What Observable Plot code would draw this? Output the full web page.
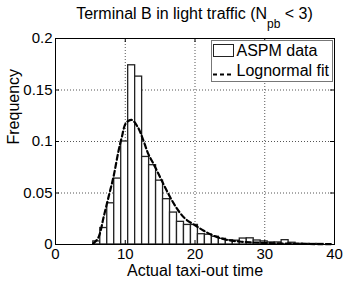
<!DOCTYPE html>
<html><head><meta charset="utf-8">
<script src="https://cdn.jsdelivr.net/npm/d3@7"></script>
<script src="https://cdn.jsdelivr.net/npm/@observablehq/plot@0.6"></script>
<style>
body{margin:0;background:#fff;font-family:"Liberation Sans",Arial,Helvetica,sans-serif;}
#wrap{position:relative;width:346px;height:281px;overflow:hidden;background:#fff;}
#title{position:absolute;left:55px;width:279px;top:6px;text-align:center;font-size:16px;line-height:16px;z-index:2;color:#000;white-space:nowrap;}
#title sub{font-size:12px;vertical-align:-9px;line-height:0;}
#chart{position:absolute;left:0;top:30px;}
#legend{position:absolute;left:211px;top:40px;width:120px;height:40px;border:1px solid #777;background:#fff;z-index:3;font-size:16px;line-height:16px;color:#000;}
#legend .sw{position:absolute;left:1px;top:3px;width:19px;height:11px;border:1.3px solid #222;background:#fff;}
#legend .ln{position:absolute;left:1px;top:31px;}
#legend .t{position:absolute;left:24.5px;white-space:nowrap;}
</style></head><body>
<div id="wrap">
  <div id="title">Terminal B in light traffic (N<sub>pb</sub> &lt; 3)</div>
  <div id="chart"></div>
  <div id="legend">
    <div class="sw"></div><span class="t" style="top:1.5px">ASPM data</span>
    <svg class="ln" width="22" height="5"><line x1="0" x2="21" y1="2.5" y2="2.5" stroke="#000" stroke-width="2" stroke-dasharray="4,3"/></svg>
    <span class="t" style="top:21.5px">Lognormal fit</span>
  </div>
</div>
<script>
// ---- data ----
const xTickValues = [0, 10, 20, 30, 40];
const yTickValues = [0, 0.05, 0.1, 0.15, 0.2];
const xGridValues = [10, 20, 30];
const yGridValues = [0.05, 0.1, 0.15];

// histogram bin edges (minutes) and frequencies
const binEdges = [5.42, 6.42, 7.42, 8.42, 9.42, 10.42, 11.42, 12.42, 13.42, 14.42, 15.42,
  16.42, 17.42, 18.42, 19.42, 20.42, 21.42, 22.42, 23.42, 24.42, 25.42, 26.42, 27.42,
  28.42, 29.42, 30.42, 31.42, 32.42, 33.42, 34.42, 35.42, 36.42, 37.42, 38.42];
const binFreq = [0.003, 0.016, 0.040, 0.064, 0.100, 0.174, 0.163, 0.085, 0.077, 0.062, 0.044,
  0.031, 0.022, 0.019, 0.019, 0.010, 0.0095, 0.0075, 0.0055, 0.004, 0.0037, 0.0058, 0.006,
  0.0039, 0.003, 0.002, 0.002, 0.0042, 0.0017, 0.0007, 0.0006, 0.0005, 0.0005];

// lognormal fit curve
const fitX = [5.4, 6.0, 6.35, 6.9, 7.6, 8.3, 9.05, 9.5, 10.1, 10.9, 11.8, 12.6, 13.3, 14.05,
  15.0, 15.7, 16.7, 17.6, 18.6, 19.8, 21.2, 22.6, 24.5, 26.4, 28.0, 30.0, 33.0, 36.0, 39.5];
const fitY = [0.0008, 0.005, 0.0104, 0.0265, 0.046, 0.0653, 0.0913, 0.104, 0.1178, 0.121,
  0.1139, 0.101, 0.088, 0.0783, 0.0653, 0.0556, 0.0427, 0.033, 0.025, 0.0195, 0.0136, 0.0087,
  0.0046, 0.0029, 0.0021, 0.0015, 0.0009, 0.0005, 0.0003];

const bins = binFreq.map((f, i) => ({x1: binEdges[i], x2: binEdges[i + 1], y: f}));
const fit = fitX.map((x, i) => ({x, y: fitY[i]}));

const W = 346, H = 251, mt = 8, mr = 12, mb = 37, ml = 55;
const frameW = W - ml - mr, frameH = H - mt - mb, tickLen = 4;
const font = '"Liberation Sans", Arial, Helvetica, sans-serif';

const chart = Plot.plot({
  width: W, height: H, marginTop: mt, marginRight: mr, marginBottom: mb, marginLeft: ml,
  style: {fontFamily: font, fontSize: "15px", color: "#000", background: "transparent", overflow: "visible"},
  x: {domain: [0, 40]},
  y: {domain: [0, 0.2]},
  marks: [
    Plot.ruleX(xGridValues, {x: d => d, stroke: "#555", strokeWidth: 1, strokeDasharray: "1,2"}),
    Plot.ruleY(yGridValues, {y: d => d, stroke: "#555", strokeWidth: 1, strokeDasharray: "1,2"}),
    Plot.rectY(bins, {x1: "x1", x2: "x2", y: "y", fill: "#fff", stroke: "#222", strokeWidth: 1.3}),
    Plot.line(fit, {x: "x", y: "y", stroke: "#000", strokeWidth: 2.2, strokeDasharray: "5,3", curve: "catmull-rom"}),
    Plot.tickX(xTickValues, {x: d => d, insetTop: frameH - tickLen, stroke: "#000"}),
    Plot.tickX(xTickValues, {x: d => d, insetBottom: frameH - tickLen, stroke: "#000"}),
    Plot.tickY(yTickValues, {y: d => d, insetRight: frameW - tickLen, stroke: "#000"}),
    Plot.tickY(yTickValues, {y: d => d, insetLeft: frameW - tickLen, stroke: "#000"}),
    Plot.frame({stroke: "#000", strokeWidth: 1}),
    Plot.axisX({ticks: xTickValues, tickSize: 0, tickPadding: 4, tickFormat: d => String(d), label: null}),
    Plot.axisY({ticks: yTickValues, tickSize: 0, tickPadding: 3, tickFormat: d => d === 0 ? "0" : String(d), label: null}),
    Plot.text(["Actual taxi-out time"], {text: d => d, frameAnchor: "bottom", lineAnchor: "top", dy: 20, fontSize: 16}),
    Plot.text(["Frequency"], {text: d => d, frameAnchor: "left", rotate: -90, lineAnchor: "middle", dx: -42, dy: 3, fontSize: 16})
  ]
});
document.getElementById("chart").appendChild(chart);
</script>
</body></html>
